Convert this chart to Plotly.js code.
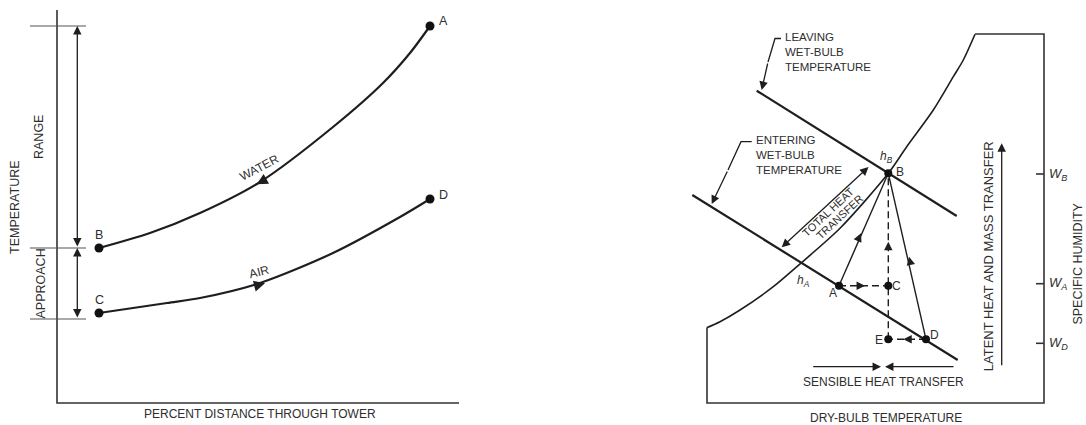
<!DOCTYPE html>
<html>
<head>
<meta charset="utf-8">
<script src="https://cdn.plot.ly/plotly-3.0.1.min.js"></script>
<style>
  html, body { margin: 0; padding: 0; background: #fff; }
  #chart { width: 1086px; height: 425px; }
</style>
</head>
<body>
<div id="chart"></div>
<script>
// ---------- Left diagram: water and air temperatures through the tower ----------
const waterX = [99, 150, 200, 260, 333, 383, 410, 430];
const waterY = [248, 233, 213, 182, 127, 83, 53, 26];
const airX = [99, 167, 200, 260, 333, 400, 430];
const airY = [313, 303, 298, 283, 253, 217, 199];
const endLabels = ['A', 'B', 'C', 'D'];
const endX = [430, 99, 99, 430];
const endY = [26, 248, 313, 199];
// temperature levels marked on the left scale: top of range, B level, C level
const levelY = [26, 248, 319];

// ---------- Right diagram: psychrometric process ----------
const satX = [706.7, 720, 740, 773.3, 800.7, 840, 888.3, 906.7, 933.3, 953.3, 963.3, 975];
const satY = [327.7, 321.7, 310, 286.7, 263.3, 228.3, 173.3, 146.7, 110, 76.7, 60, 34.3];
const leavingX = [756.7, 956.7];
const leavingY = [90.7, 216];
const enteringX = [692.3, 957.7];
const enteringY = [195, 360];
const stateLabels = ['A', 'B', 'C', 'D', 'E'];
const stateX = [839, 888.3, 888.3, 926, 888.3];
const stateY = [285.7, 173.3, 285.7, 339.3, 339.3];
const humidityLabels = ['<i>W</i><sub><i>B</i></sub>', '<i>W</i><sub><i>A</i></sub>', '<i>W</i><sub><i>D</i></sub>'];
const humidityY = [174, 283.7, 343.3];
const enthalpyLabels = ['<i>h</i><sub><i>B</i></sub>', '<i>h</i><sub><i>A</i></sub>'];

const INK = '#1e1e1e';
const TXT = '#2e2e2e';
const FONT = 'Liberation Sans, Arial, sans-serif';

const traces = [];
function line(xs, ys, opts) {
  opts = opts || {};
  traces.push({
    type: 'scatter', mode: 'lines', x: xs, y: ys, hoverinfo: 'skip',
    line: {color: opts.color || INK, width: opts.width || 1.5, dash: opts.dash || 'solid',
           shape: opts.spline ? 'spline' : 'linear', smoothing: opts.spline ? 0.8 : 0}
  });
}
function dots(xs, ys, size) {
  traces.push({type: 'scatter', mode: 'markers', x: xs, y: ys, hoverinfo: 'skip',
    marker: {color: '#111', size: size}});
}

// left axes
line([57, 57, 459], [10, 403, 403], {width: 1.6, color: '#333'});
levelY.forEach(y => line([30, 86], [y, y], {width: 1.2, color: '#555'}));
line(waterX, waterY, {width: 2.2, spline: true});
line(airX, airY, {width: 2.2, spline: true});
dots(endX, endY, 9);

// right frame and saturation curve
line([975, 1044, 1044, 707, 707], [34, 34, 403, 403, 328], {width: 1.6, color: '#333'});
line(satX, satY, {width: 1.6, spline: true});
line(leavingX, leavingY, {width: 2.2});
line(enteringX, enteringY, {width: 2.2});
// process lines into B
line([stateX[0], stateX[1]], [stateY[0], stateY[1]], {width: 1.4});
line([stateX[3], stateX[1]], [stateY[3], stateY[1]], {width: 1.4});
line([stateX[4], stateX[1]], [stateY[4], stateY[1]], {width: 1.4, dash: '7px,4px'});
line([stateX[0], stateX[2]], [stateY[0], stateY[2]], {width: 1.4, dash: '7px,4px'});
line([stateX[3], stateX[4]], [stateY[3], stateY[4]], {width: 1.4, dash: '7px,4px'});
// humidity ticks on the right scale
humidityY.forEach(y => line([1036, 1044], [y, y], {width: 1.6, color: '#333'}));
// leader lines for the wet-bulb labels
line([781, 775, 768], [38.5, 38.5, 62], {width: 1.3});
line([751.7, 741, 728], [141.7, 141.7, 170], {width: 1.3});
dots(stateX, stateY, 8);

const ann = [];
function text(x, y, t, o) {
  o = o || {};
  ann.push({x: x, y: y, xref: 'x', yref: 'y', text: t, showarrow: false,
    xanchor: o.xa || 'center', yanchor: o.ya || 'middle', align: o.align || 'center',
    textangle: o.angle || 0,
    font: {family: FONT, size: o.size || 12, color: TXT}});
}
function arrow(tipX, tipY, tailX, tailY, o) {
  o = o || {};
  ann.push({x: tipX, y: tipY, ax: tailX, ay: tailY, xref: 'x', yref: 'y', axref: 'x', ayref: 'y',
    text: '', showarrow: true, arrowhead: 2, arrowsize: o.size || 1.3, arrowwidth: o.width || 1.3,
    arrowcolor: INK, standoff: 0, startstandoff: 0, arrowside: o.both ? 'end+start' : 'end',
    startarrowhead: 2, startarrowsize: o.size || 1.3});
}
// arrowhead placed on a segment, pointing from (fx,fy) toward (tx,ty)
function midArrow(px, py, fx, fy, tx, ty, o) {
  const dx = tx - fx, dy = ty - fy, L = Math.hypot(dx, dy);
  arrow(px, py, px - 9 * dx / L, py - 9 * dy / L, o);
}

// left annotations
arrow(77.3, 26, 77.3, 248, {both: true, width: 1.3});
arrow(77.3, 248, 77.3, 319, {both: true, width: 1.3});
midArrow(256.7, 184.3, 275, 174, 256.7, 184.3, {width: 1.7});
midArrow(265, 283.3, 245, 288.5, 265, 283.3, {width: 1.7});
text(39, 137, 'RANGE', {angle: -90, size: 12.5});
text(40.5, 284, 'APPROACH', {angle: -90, size: 12.5});
text(15, 207, 'TEMPERATURE', {angle: -90, size: 12.5});
text(258.5, 167.5, 'WATER', {angle: -28, size: 12});
text(258.5, 271.5, 'AIR', {angle: -14, size: 12});
text(260, 414, 'PERCENT DISTANCE THROUGH TOWER', {size: 12});
const endLabelDx = [13, 0, 0, 13], endLabelDy = [-5, -13, -13, -4];
endLabels.forEach((l, i) => text(endX[i] + endLabelDx[i], endY[i] + endLabelDy[i], l, {size: 12.5}));

// right annotations
arrow(761.7, 90, 768, 62, {width: 1.3});
arrow(711.7, 204, 728, 170, {width: 1.3});
arrow(781.7, 247.3, 870, 165.7, {both: true, width: 1.3});
midArrow(861, 233.3, stateX[0], stateY[0], stateX[1], stateY[1]);
midArrow(909, 256.7, stateX[3], stateY[3], stateX[1], stateY[1]);
midArrow(888.3, 241.7, stateX[4], stateY[4], stateX[1], stateY[1]);
midArrow(865, 285.7, stateX[0], stateY[0], stateX[2], stateY[2]);
midArrow(903.3, 339.3, stateX[3], stateY[3], stateX[4], stateY[4]);
arrow(881, 366.7, 811.7, 366.7, {width: 1.3});
arrow(885, 366.7, 955, 366.7, {width: 1.3});
arrow(1001.7, 143.3, 1001.7, 366.7, {width: 1.3});

text(783, 51.5, 'LEAVING<br>WET-BULB<br>TEMPERATURE', {xa: 'left', align: 'left', size: 11.5});
text(754, 154.5, 'ENTERING<br>WET-BULB<br>TEMPERATURE', {xa: 'left', align: 'left', size: 11.5});
text(828, 211.9, 'TOTAL HEAT', {angle: -43, size: 11});
text(839.5, 217, 'TRANSFER', {angle: -43, size: 11});
text(886, 157, enthalpyLabels[0], {size: 12});
text(803.5, 281, enthalpyLabels[1], {size: 12});
const stateLabelDx = [-6, 12, 8, 8, -9], stateLabelDy = [7, -1, 0, -4, 1];
stateLabels.forEach((l, i) => text(stateX[i] + stateLabelDx[i], stateY[i] + stateLabelDy[i], l, {size: 12}));
humidityLabels.forEach((l, i) => text(1046.5, humidityY[i], l, {xa: 'left', size: 13}));
text(988.5, 256.7, 'LATENT HEAT AND MASS TRANSFER', {angle: -90, size: 13});
text(1078.3, 263.3, 'SPECIFIC HUMIDITY', {angle: -90, size: 12.5});
text(883.3, 381.7, 'SENSIBLE HEAT TRANSFER', {size: 12});
text(885.7, 417.5, 'DRY-BULB TEMPERATURE', {size: 12});

const layout = {
  width: 1086, height: 425,
  margin: {l: 0, r: 0, t: 0, b: 0, pad: 0},
  paper_bgcolor: '#fff', plot_bgcolor: '#fff',
  showlegend: false,
  xaxis: {range: [0, 1086], visible: false, fixedrange: true},
  yaxis: {range: [425, 0], visible: false, fixedrange: true},
  annotations: ann
};
Plotly.newPlot('chart', traces, layout, {staticPlot: true, displayModeBar: false});
</script>
</body>
</html>
